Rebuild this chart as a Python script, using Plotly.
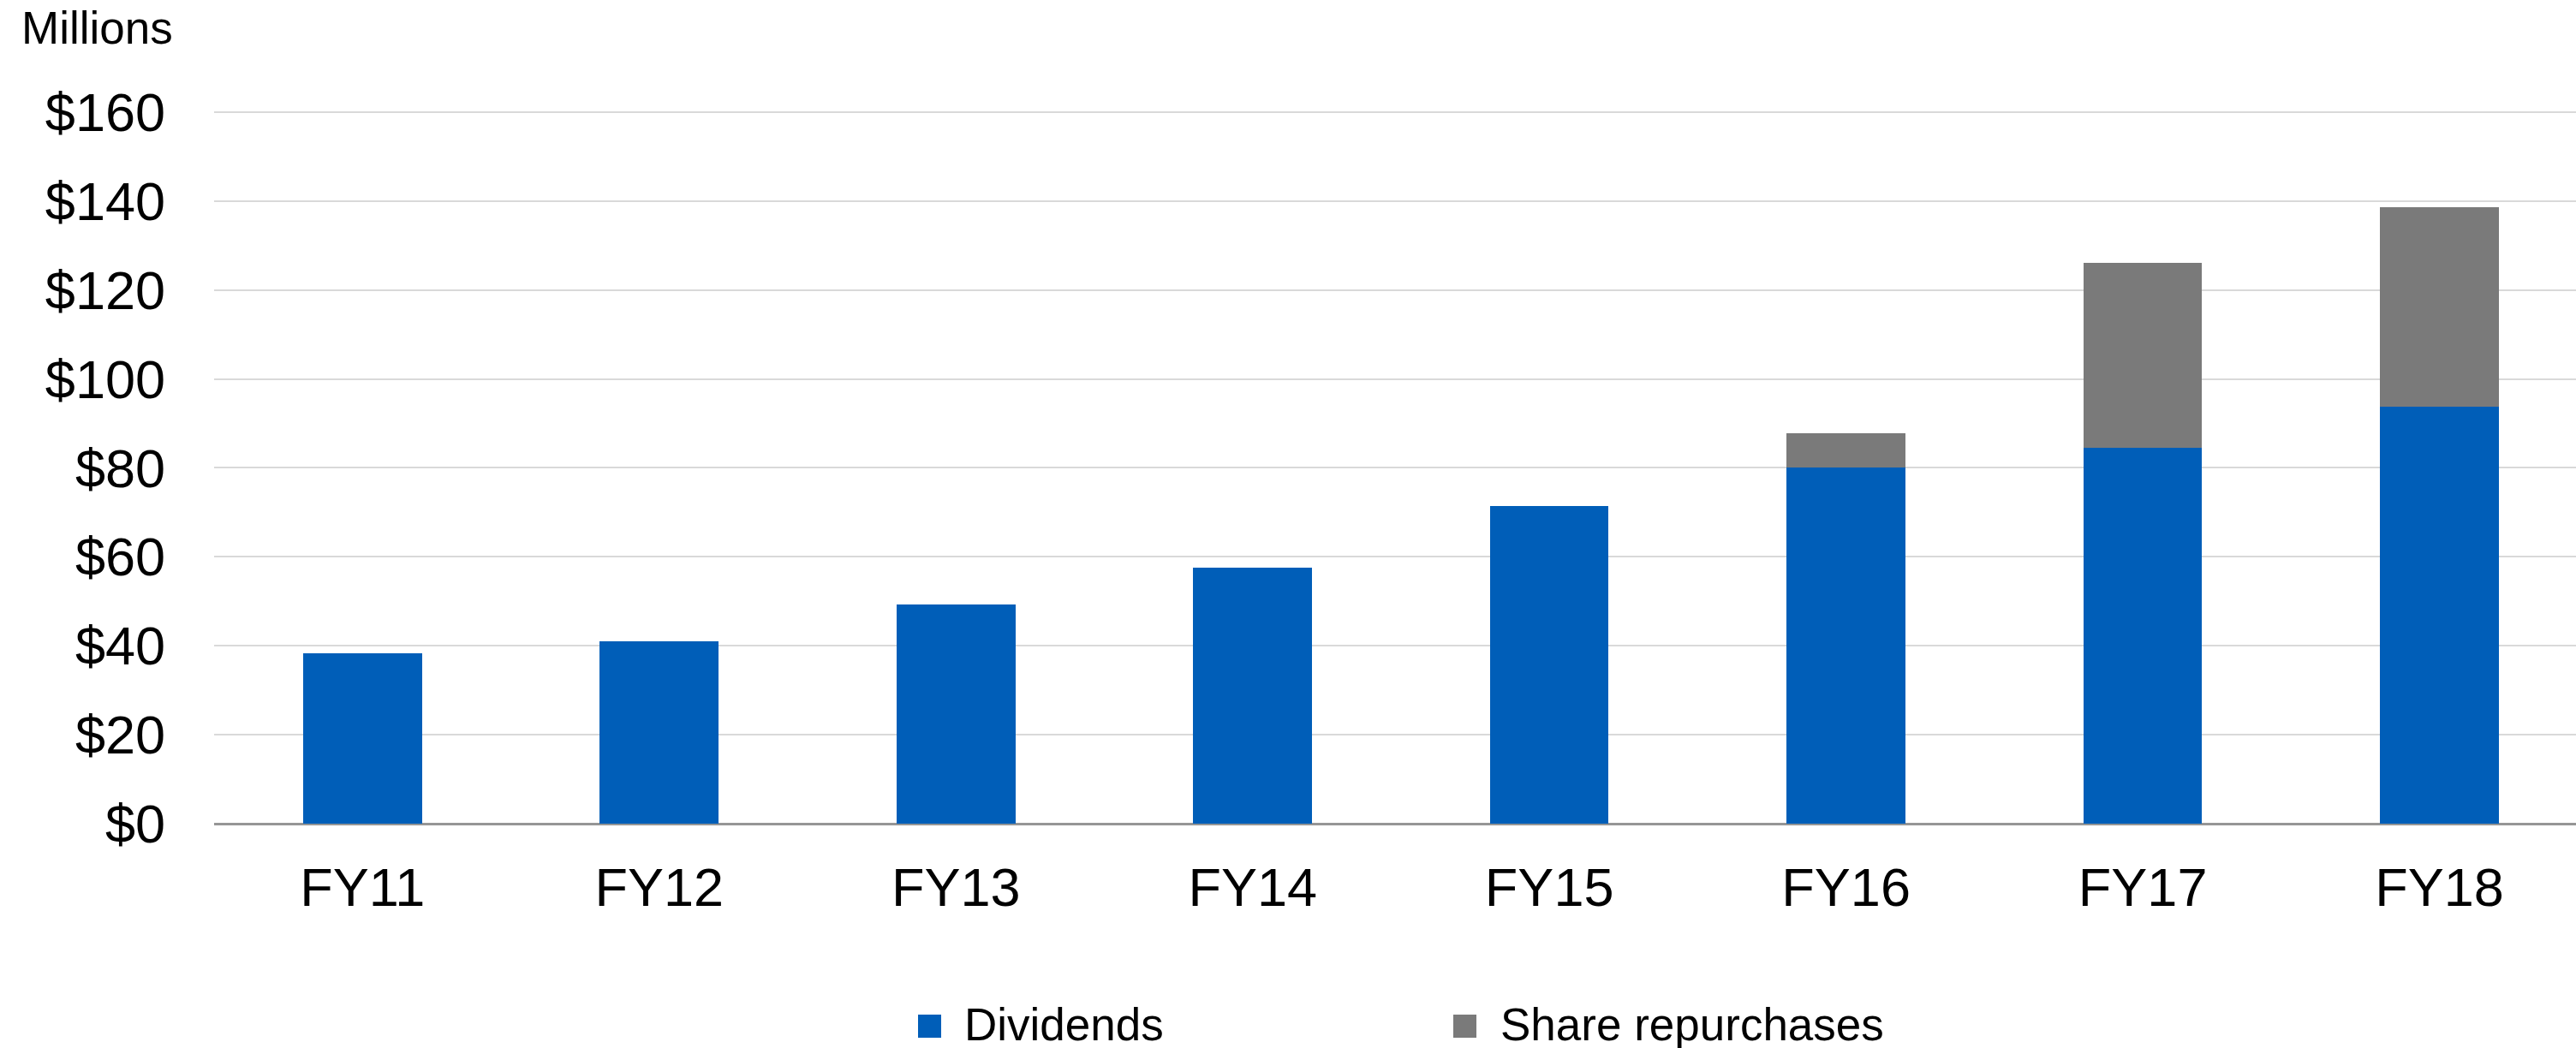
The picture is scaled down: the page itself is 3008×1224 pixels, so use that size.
import plotly.graph_objects as go

# Fiscal years and cash returned to shareholders ($ millions)
years = ["FY11", "FY12", "FY13", "FY14", "FY15", "FY16", "FY17", "FY18"]
dividends = [38.4, 41.1, 49.2, 57.6, 71.5, 80.0, 84.6, 93.7]
repurchases = [0, 0, 0, 0, 0, 7.8, 41.6, 45.0]

series_names = ["Dividends", "Share repurchases"]
series_colors = ["#005EB8", "#7A7A7A"]

y_ticks = [0, 20, 40, 60, 80, 100, 120, 140, 160]
y_tick_text = ["&#36;%d" % v for v in y_ticks]
unit_label = "Millions"

FONT = "Liberation Sans, Arial, Helvetica, sans-serif"
W, H = 3008, 1224
M_L, M_R, M_T, M_B = 250, 0, 105, 262
PLOT_W = W - M_L - M_R
PLOT_H = H - M_T - M_B


def px_x(x):
    """Canvas pixel -> paper x."""
    return (x - M_L) / PLOT_W


def px_y(y):
    """Canvas pixel -> paper y."""
    return (H - M_B - y) / PLOT_H


fig = go.Figure()
fig.add_trace(go.Bar(x=years, y=dividends, name=series_names[0],
                     marker=dict(color=series_colors[0], line=dict(width=0)),
                     showlegend=False))
fig.add_trace(go.Bar(x=years, y=repurchases, name=series_names[1],
                     marker=dict(color=series_colors[1], line=dict(width=0)),
                     showlegend=False))

# legend drawn by hand so the swatches can be larger than plotly's fixed size
legend_items = [(series_names[0], series_colors[0], 1072, 1129),
                (series_names[1], series_colors[1], 1697, 1755)]
shapes = []
annotations = []
for name, color, sx, tx in legend_items:
    shapes.append(dict(type="rect", xref="paper", yref="paper",
                       x0=px_x(sx), x1=px_x(sx + 27),
                       y0=px_y(1212), y1=px_y(1185),
                       fillcolor=color, line=dict(width=0)))
    annotations.append(dict(text=name, xref="paper", yref="paper",
                            x=px_x(tx - 5), y=px_y(1196),
                            xanchor="left", yanchor="middle", showarrow=False,
                            font=dict(family=FONT, size=53, color="#000000")))

annotations.append(dict(text=unit_label, xref="paper", yref="paper",
                        x=px_x(23), y=px_y(32), xanchor="left", yanchor="middle",
                        showarrow=False,
                        font=dict(family=FONT, size=53, color="#000000")))

fig.update_layout(
    width=W, height=H,
    margin=dict(l=M_L, r=M_R, t=M_T, b=M_B, pad=0),
    barmode="stack",
    bargap=0.6,
    paper_bgcolor="#FFFFFF",
    plot_bgcolor="#FFFFFF",
    font=dict(family=FONT, size=63, color="#000000"),
    shapes=shapes,
    annotations=annotations,
    showlegend=False,
)
fig.update_xaxes(
    type="category",
    range=[-0.5, 7.46],
    showgrid=False,
    showline=False,
    zeroline=False,
    ticks="",
    tickfont=dict(family=FONT, size=63, color="#000000"),
    ticklabelstandoff=32,
)
fig.update_yaxes(
    range=[0, 165],
    tickmode="array",
    tickvals=y_ticks,
    ticktext=y_tick_text,
    showgrid=True,
    gridcolor="#D9D9D9",
    gridwidth=2,
    zeroline=True,
    zerolinecolor="#969696",
    zerolinewidth=3,
    showline=False,
    ticks="",
    tickfont=dict(family=FONT, size=63, color="#000000"),
    ticklabelstandoff=56,
)

fig.write_html("out.html")
